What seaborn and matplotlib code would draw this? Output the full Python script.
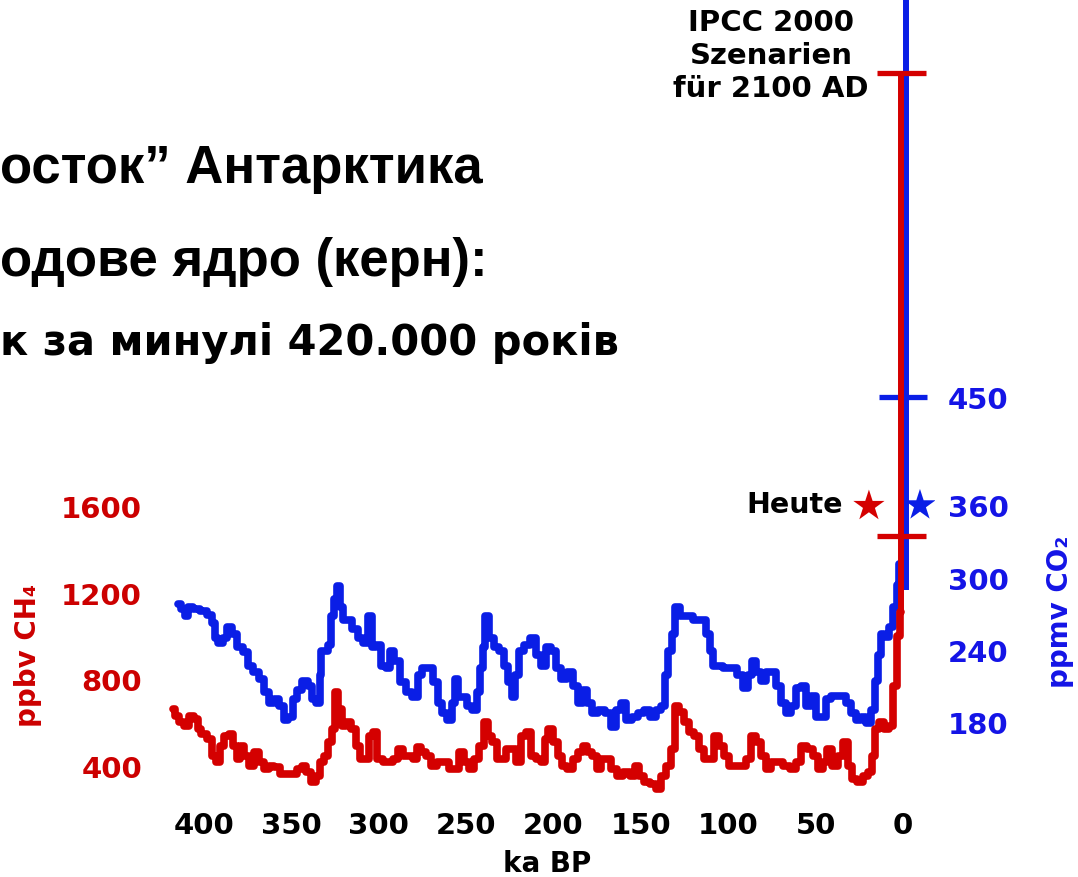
import matplotlib
matplotlib.use("Agg")
import matplotlib.pyplot as plt
import seaborn as sns
import pandas as pd

# ---------------- data ----------------
co2_ka = [414.6, 411.7, 409.8, 407.9, 404.1, 400.3, 396.5, 394.6, 392.6, 390.7,
          387.9, 385.0, 382.2, 379.3, 375.5, 373.6, 369.7, 366.9, 364.0, 361.2,
          358.3, 355.4, 352.6, 350.7, 347.8, 345.0, 342.1, 339.2, 337.4, 334.5,
          333.1, 332.6, 329.7, 327.8, 326.3, 324.4, 322.8, 321.7, 319.2, 316.4,
          313.5, 310.6, 307.8, 304.9, 303.0, 300.2, 297.3, 294.4, 292.5, 289.7,
          285.8, 283.0, 279.2, 276.3, 273.5, 270.6, 267.7, 264.9, 262.0, 259.2,
          257.2, 255.3, 253.4, 250.6, 247.7, 244.9, 242.9, 241.0, 240.0, 238.2,
          235.3, 232.4, 229.6, 226.7, 224.8, 222.9, 221.0, 218.1, 215.3, 211.5,
          208.6, 205.8, 202.9, 200.1, 197.2, 194.3, 190.5, 187.6, 184.8, 181.9,
          179.1, 176.2, 172.3, 168.5, 165.7, 162.8, 160.0, 157.1, 153.3, 149.4,
          146.6, 142.8, 139.9, 137.1, 135.2, 133.3, 131.4, 129.1, 125.7, 121.9,
          118.0, 114.2, 111.4, 109.4, 107.6, 104.7, 100.9, 97.1, 93.2, 90.4,
          87.5, 85.6, 82.8, 79.9, 77.1, 74.2, 71.3, 68.5, 65.6, 62.8,
          59.9, 57.0, 54.2, 51.3, 48.5, 45.6, 42.7, 39.9, 34.2, 31.3,
          28.4, 25.6, 22.7, 19.9, 17.0, 15.4, 13.5, 12.2, 9.3, 6.5,
          4.6, 2.7, 1.7]
co2_ppmv = [278, 274, 268, 276, 274, 272, 269, 262, 250, 246,
            250, 259, 253, 242, 238, 227, 222, 216, 205, 196,
            199, 193, 182, 184, 199, 207, 214, 210, 199, 196,
            219, 239, 239, 244, 268, 282, 293, 276, 265, 265,
            257, 250, 246, 268, 242, 244, 227, 225, 239, 231,
            213, 205, 201, 219, 225, 225, 213, 196, 188, 182,
            196, 216, 201, 201, 193, 190, 205, 225, 242, 268,
            250, 242, 239, 227, 213, 201, 219, 239, 244, 250,
            236, 227, 242, 239, 225, 216, 222, 210, 196, 207,
            196, 188, 190, 188, 176, 190, 196, 182, 184, 188,
            190, 184, 190, 193, 219, 239, 253, 276, 268, 268,
            265, 265, 253, 239, 227, 227, 225, 225, 219, 208,
            219, 231, 222, 214, 222, 222, 210, 196, 188, 193,
            208, 210, 193, 202, 184, 184, 199, 202, 202, 196,
            188, 182, 184, 179, 190, 214, 236, 253, 251, 259,
            276, 294, 311]

ch4_ka = [417.4, 415.5, 412.7, 409.8, 406.9, 404.1, 403.1, 400.3, 396.5, 394.6,
          391.7, 389.8, 386.9, 384.1, 382.2, 380.2, 378.3, 375.5, 372.6, 369.7,
          366.9, 364.0, 361.2, 358.3, 354.5, 348.8, 345.0, 343.1, 340.2, 337.4,
          334.5, 332.6, 329.7, 327.8, 325.9, 324.5, 322.1, 320.2, 317.3, 314.5,
          311.6, 309.7, 306.8, 304.5, 302.1, 299.2, 296.3, 293.5, 290.6, 287.7,
          284.9, 282.0, 279.2, 277.3, 274.4, 271.6, 268.7, 264.9, 261.0, 258.1,
          255.3, 252.4, 249.5, 246.7, 243.8, 241.0, 238.6, 236.3, 233.4, 231.5,
          228.7, 225.8, 222.9, 220.1, 217.2, 214.3, 211.5, 208.6, 205.8, 203.8,
          201.9, 199.1, 196.2, 193.4, 190.5, 187.6, 184.8, 181.9, 179.1, 176.2,
          174.3, 171.5, 168.5, 165.7, 161.9, 158.1, 154.2, 152.3, 149.4, 146.6,
          142.8, 139.9, 137.1, 134.2, 131.4, 129.5, 126.6, 123.7, 120.8, 118.0,
          115.2, 112.3, 109.4, 106.6, 103.7, 100.9, 98.0, 94.2, 91.4, 88.5,
          85.6, 82.8, 79.9, 77.1, 74.2, 70.4, 66.5, 62.8, 59.9, 57.0,
          53.2, 50.3, 47.5, 44.6, 41.8, 38.9, 36.0, 33.2, 30.3, 27.5,
          24.6, 21.7, 18.9, 17.0, 15.0, 12.2, 9.3, 6.5, 4.6, 2.7, 1.3]
ch4_ppbv = [663, 631, 603, 585, 631, 617, 571, 548, 525, 446,
            418, 492, 538, 548, 492, 432, 492, 446, 400, 465,
            418, 386, 400, 395, 363, 363, 386, 400, 372, 326,
            354, 418, 446, 511, 571, 742, 663, 585, 603, 571,
            492, 432, 432, 538, 557, 432, 418, 418, 432, 478,
            446, 446, 432, 488, 465, 446, 400, 418, 418, 386,
            386, 465, 418, 386, 432, 492, 603, 538, 511, 432,
            432, 478, 478, 418, 538, 557, 446, 432, 418, 525,
            571, 511, 446, 400, 386, 432, 465, 492, 465, 446,
            386, 432, 432, 386, 354, 372, 354, 400, 354, 326,
            317, 294, 354, 400, 478, 677, 649, 603, 557, 538,
            478, 432, 432, 538, 492, 446, 400, 400, 400, 432,
            538, 511, 446, 386, 418, 418, 400, 386, 418, 492,
            478, 446, 386, 418, 478, 400, 446, 511, 400, 340,
            326, 354, 372, 446, 571, 603, 571, 585, 769, 1000, 1111]

x_ticks = [400, 350, 300, 250, 200, 150, 100, 50, 0]
ch4_ticks = [400, 800, 1200, 1600]
co2_ticks = [180, 240, 300, 360, 450]

# IPCC 2000 scenarios for 2100 AD and present-day values
ipcc_ch4 = [1460, 3600]      # red bar with end ticks
ipcc_co2_start = 290
ipcc_co2_top = 800           # runs off the top of the chart
ipcc_co2_tick = 450
today_ch4 = 1600
today_co2 = 360

title_lines = ["осток” Антарктика", "одове ядро (керн):", "к за минулі 420.000 років"]
ipcc_text = "IPCC 2000\nSzenarien\nfür 2100 AD"
today_text = "Heute"

RED = "#D40000"
BLUE = "#0A1EE6"
RED_TXT = "#CC0000"
BLUE_TXT = "#1414E6"

# ---------------- figure ----------------
sns.set_theme(style="white")
plt.rcParams["font.family"] = ["DejaVu Sans"]
plt.rcParams["font.weight"] = "bold"

W, H = 1078, 878
fig = plt.figure(figsize=(W / 100, H / 100), dpi=100)
fig.patch.set_facecolor("white")

L, R, T, B = 160, 935, 0, 800
ax_co2 = fig.add_axes([L / W, 1 - B / H, (R - L) / W, (B - T) / H])
ax_ch4 = ax_co2.twinx()

ax_co2.set_xlim(425.06, -18.3)
ax_ch4.set_ylim(247.7, 3939.9)
ax_co2.set_ylim(116.2, 780.4)

df_co2 = pd.DataFrame({"ka": co2_ka, "co2": co2_ppmv})
df_ch4 = pd.DataFrame({"ka": ch4_ka, "ch4": ch4_ppbv})

LW = 5.5
sns.lineplot(data=df_co2, x="ka", y="co2", ax=ax_co2, color=BLUE, lw=LW,
             sort=False, estimator=None, drawstyle="steps-mid")
sns.lineplot(data=df_ch4, x="ka", y="ch4", ax=ax_ch4, color=RED, lw=LW,
             sort=False, estimator=None, drawstyle="steps-mid")

# IPCC bars
x_blue = -1.5
x_red = ch4_ka[-1]
ax_co2.plot([x_blue, x_blue], [ipcc_co2_start, ipcc_co2_top], color=BLUE,
            lw=4.3, solid_capstyle="butt", zorder=3)
ax_co2.plot([14, -14], [ipcc_co2_tick, ipcc_co2_tick], color=BLUE, lw=3.8,
            solid_capstyle="butt", zorder=4)
ax_ch4.plot([x_red, x_red], [ch4_ppbv[-1], ipcc_ch4[1]], color=RED, lw=4.3,
            solid_capstyle="butt", zorder=3)
for v in ipcc_ch4:
    ax_ch4.plot([15, -13], [v, v], color=RED, lw=3.8, solid_capstyle="butt", zorder=4)

# present-day stars
ax_ch4.scatter([19.5], [today_ch4], marker="*", s=560, color=RED, edgecolor="none", zorder=5)
ax_co2.scatter([-9.7], [today_co2], marker="*", s=560, color=BLUE, edgecolor="none", zorder=5)

# axes styling
for a in (ax_co2, ax_ch4):
    for s in a.spines.values():
        s.set_visible(False)
    a.grid(False)
    a.set_xlabel("")
    a.set_ylabel("")

ax_co2.set_xticks(x_ticks)
ax_co2.set_xticklabels([str(t) for t in x_ticks])
ax_co2.tick_params(axis="x", length=0, pad=9, labelsize=21, labelcolor="black")

ax_co2.yaxis.tick_right()
ax_co2.yaxis.set_label_position("right")
ax_co2.set_yticks(co2_ticks)
ax_co2.set_yticklabels([str(t) for t in co2_ticks])
ax_co2.tick_params(axis="y", length=0, pad=9, labelsize=21, labelcolor=BLUE_TXT)

ax_ch4.yaxis.tick_left()
ax_ch4.yaxis.set_label_position("left")
ax_ch4.set_yticks(ch4_ticks)
ax_ch4.set_yticklabels([str(t) for t in ch4_ticks])
ax_ch4.tick_params(axis="y", length=0, pad=13, labelsize=21, labelcolor=RED_TXT)

for lbl in ax_co2.get_xticklabels() + ax_co2.get_yticklabels() + ax_ch4.get_yticklabels():
    lbl.set_fontweight("bold")

ax_co2.set_xlabel("ka BP", fontsize=20, fontweight="bold", color="black", labelpad=7)
ax_ch4.set_ylabel("ppbv CH₄", fontsize=20, fontweight="bold", color=RED_TXT)
ax_ch4.yaxis.set_label_coords((42 - L) / (R - L), 1 - 655 / (B - T))
ax_co2.set_ylabel("ppmv CO₂", fontsize=20, fontweight="bold", color=BLUE_TXT, rotation=90)
ax_co2.yaxis.set_label_coords((1046 - L) / (R - L), 1 - 612 / (B - T))

# title lines
fig.text(0, 1 - 183 / H, title_lines[0], fontsize=38, fontweight="bold",
         family=["Liberation Sans", "DejaVu Sans"], color="black", va="baseline", ha="left")
fig.text(0, 1 - 276 / H, title_lines[1], fontsize=38, fontweight="bold",
         family=["Liberation Sans", "DejaVu Sans"], color="black", va="baseline", ha="left")
fig.text(0, 1 - 355 / H, title_lines[2], fontsize=30, fontweight="bold",
         family=["DejaVu Sans"], color="black", va="baseline", ha="left")

fig.text(771 / W, 1 - 56 / H, ipcc_text, fontsize=21, fontweight="bold", color="black",
         ha="center", va="center", linespacing=1.22, multialignment="center")
fig.text(843 / W, 1 - 505 / H, today_text, fontsize=20.5, fontweight="bold", color="black",
         ha="right", va="center")

fig.savefig("out.png", dpi=100, facecolor="white")
